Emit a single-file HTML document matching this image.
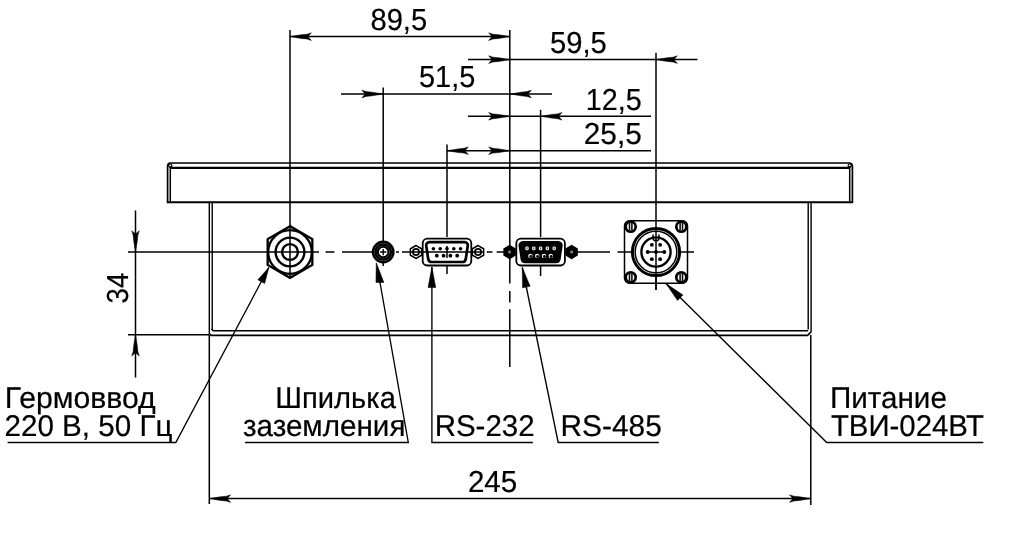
<!DOCTYPE html>
<html lang="ru">
<head>
<meta charset="utf-8">
<title>Чертёж: разъёмы</title>
<style>
html,body{margin:0;padding:0;background:#fff;}
body{width:1024px;height:539px;overflow:hidden;}
svg{display:block;will-change:transform;}
.t{fill:none;stroke:#000;stroke-width:1.5;}
.m{fill:none;stroke:#000;stroke-width:1.5;}
.b{fill:none;stroke:#000;stroke-width:1.4;}
.l{fill:none;stroke:#000;stroke-width:1.35;}
.k{fill:none;stroke:#000;stroke-width:2.3;}
.a path{fill:#000;stroke:#000;stroke-width:0.5;stroke-linejoin:miter;}
text{font-family:"Liberation Sans",sans-serif;font-size:30px;fill:#000;text-rendering:geometricPrecision;stroke:#000;stroke-width:0.2px;}
</style>
</head>
<body>
<svg width="1024" height="539" viewBox="0 0 1024 539">
<rect width="1024" height="539" fill="#fff"/>
<path d="M167.6 202V166a3 3 0 0 1 3-3H849.4a3 3 0 0 1 3 3V202" fill="none" stroke="#000" stroke-width="1.7"/>
<path d="M166.8 202.2H853.2" fill="none" stroke="#000" stroke-width="2"/>
<path d="M170 167.9H850" fill="none" stroke="#000" stroke-width="2.1"/>
<path class="m" d="M170.3 166V201.5M849.7 166V201.5"/>
<circle cx="170.3" cy="165.6" r="1.6" fill="none" stroke="#000" stroke-width="1.2"/><circle cx="849.7" cy="165.6" r="1.6" fill="none" stroke="#000" stroke-width="1.2"/>
<path class="b" d="M209.3 202V334M212.2 202V329.5M811.1 202V332M808.2 202V329.5"/>
<path d="M209.3 333.5l2 1.9H807.6l3.5-3.5M211.5 329l1.7 1.7H808.2" fill="none" stroke="#000" stroke-width="1.6"/>
<path class="t" d="M290 30L290 226" />
<path class="t" d="M383.2 87.5L383.2 266" />
<path class="t" d="M447 144.5L447 237" />
<path class="t" d="M447 266L447 274" />
<path class="t" d="M540.6 109.8L540.6 237" />
<path class="t" d="M540.6 266L540.6 276" />
<path class="t" d="M656 52.8L656 290" />
<path class="t" d="M509.8 30V283.5M509.8 291V302.5M509.8 309.3V367"/>
<path class="t" d="M290 36.6L510 36.6" />
<g class="a"><path d="M0 0L-11 -1.8L-17 -2.4L-21.3 -3.8L-18 0L-21.3 3.8L-17 2.4L-11 1.8Z" transform="translate(290 36.6) rotate(180)"/><path d="M0 0L-11 -1.8L-17 -2.4L-21.3 -3.8L-18 0L-21.3 3.8L-17 2.4L-11 1.8Z" transform="translate(510 36.6) rotate(0)"/></g>
<path class="t" d="M468 59.6L697.5 59.6" />
<g class="a"><path d="M0 0L-11 -1.8L-17 -2.4L-21.3 -3.8L-18 0L-21.3 3.8L-17 2.4L-11 1.8Z" transform="translate(510 59.6) rotate(0)"/><path d="M0 0L-11 -1.8L-17 -2.4L-21.3 -3.8L-18 0L-21.3 3.8L-17 2.4L-11 1.8Z" transform="translate(656 59.6) rotate(180)"/></g>
<path class="t" d="M341 94L552 94" />
<g class="a"><path d="M0 0L-11 -1.8L-17 -2.4L-21.3 -3.8L-18 0L-21.3 3.8L-17 2.4L-11 1.8Z" transform="translate(383.2 94) rotate(0)"/><path d="M0 0L-11 -1.8L-17 -2.4L-21.3 -3.8L-18 0L-21.3 3.8L-17 2.4L-11 1.8Z" transform="translate(510 94) rotate(180)"/></g>
<path class="t" d="M468 116.3L651 116.3" />
<g class="a"><path d="M0 0L-11 -1.8L-17 -2.4L-21.3 -3.8L-18 0L-21.3 3.8L-17 2.4L-11 1.8Z" transform="translate(510 116.3) rotate(0)"/><path d="M0 0L-11 -1.8L-17 -2.4L-21.3 -3.8L-18 0L-21.3 3.8L-17 2.4L-11 1.8Z" transform="translate(540.6 116.3) rotate(180)"/></g>
<path class="t" d="M447 150.7L651 150.7" />
<g class="a"><path d="M0 0L-11 -1.8L-17 -2.4L-21.3 -3.8L-18 0L-21.3 3.8L-17 2.4L-11 1.8Z" transform="translate(447 150.7) rotate(180)"/><path d="M0 0L-11 -1.8L-17 -2.4L-21.3 -3.8L-18 0L-21.3 3.8L-17 2.4L-11 1.8Z" transform="translate(510 150.7) rotate(0)"/></g>
<path class="t" d="M209.3 335L209.3 504" />
<path class="t" d="M810.8 335L810.8 505" />
<path class="t" d="M209.3 498.6L810.8 498.6" />
<g class="a"><path d="M0 0L-11 -1.8L-17 -2.4L-21.3 -3.8L-18 0L-21.3 3.8L-17 2.4L-11 1.8Z" transform="translate(209.3 498.6) rotate(180)"/><path d="M0 0L-11 -1.8L-17 -2.4L-21.3 -3.8L-18 0L-21.3 3.8L-17 2.4L-11 1.8Z" transform="translate(810.8 498.6) rotate(0)"/></g>
<path class="t" d="M135.5 210.5L135.5 377.5" />
<g class="a"><path d="M0 0L-11 -1.8L-17 -2.4L-21.3 -3.8L-18 0L-21.3 3.8L-17 2.4L-11 1.8Z" transform="translate(135.5 252) rotate(90)"/><path d="M0 0L-11 -1.8L-17 -2.4L-21.3 -3.8L-18 0L-21.3 3.8L-17 2.4L-11 1.8Z" transform="translate(135.5 334.8) rotate(-90)"/></g>
<path class="t" d="M128 334.8L209 334.8" />
<path class="t" d="M128 252L319 252" />
<path class="t" d="M325.5 252L334.5 252" />
<path class="t" d="M342 252L372 252" />
<path class="t" d="M396 252L399 252" />
<path class="t" d="M402 252L410 252" />
<path class="t" d="M486.7 252L492.5 252" />
<path class="t" d="M496.7 252L504 252" />
<path class="t" d="M577 252L610 252" />
<path class="t" d="M617.5 252L694 252" />
<polygon class="k" points="290.00,226.20 267.66,239.10 267.66,264.90 290.00,277.80 312.34,264.90 312.34,239.10"/>
<circle class="k" cx="290" cy="252" r="21.8"/>
<circle class="k" cx="290" cy="252" r="14.4"/>
<circle class="k" cx="290" cy="252" r="7.9"/>
<path class="t" d="M290 226L290 276.5" />
<circle cx="383.2" cy="252" r="10.1" fill="#fff" stroke="#000" stroke-width="2.7"/>
<circle cx="383.2" cy="252" r="7.6" fill="none" stroke="#000" stroke-width="2.5"/>
<circle cx="383.2" cy="252" r="5.3" fill="none" stroke="#000" stroke-width="2.1"/>
<path class="l" d="M380.2 252H386.4M383.2 249V255.2"/>
<polygon class="m" points="416.00,245.50 410.37,248.75 410.37,255.25 416.00,258.50 421.63,255.25 421.63,248.75" fill="#fff"/><circle cx="416" cy="252" r="3.1" fill="none" stroke="#000" stroke-width="1.7"/><polygon class="m" points="478.00,245.50 472.37,248.75 472.37,255.25 478.00,258.50 483.63,255.25 483.63,248.75" fill="#fff"/><circle cx="478" cy="252" r="3.1" fill="none" stroke="#000" stroke-width="1.7"/><rect x="422.7" y="238.7" width="48.6" height="26.8" rx="4.5" fill="#fff" stroke="#000" stroke-width="1.8"/><path d="M429.4 242.2H464.6a3.2 3.2 0 0 1 3.1 4L465.7 259.4a3.4 3.4 0 0 1 -3.3 2.6H431.6a3.4 3.4 0 0 1 -3.3 -2.6L426.3 246.2a3.2 3.2 0 0 1 3.1 -4Z" fill="#fff" stroke="#000" stroke-width="2.7"/><circle cx="433.4" cy="248.8" r="1.8"/><circle cx="440.2" cy="248.8" r="1.8"/><circle cx="447.0" cy="248.8" r="1.8"/><circle cx="453.79999999999995" cy="248.8" r="1.8"/><circle cx="460.59999999999997" cy="248.8" r="1.8"/><circle cx="436.8" cy="255.7" r="1.9"/><circle cx="443.6" cy="255.7" r="1.9"/><circle cx="450.40000000000003" cy="255.7" r="1.9"/><circle cx="457.2" cy="255.7" r="1.9"/>
<path class="t" d="M447 246L447 258" />
<path class="t" d="M410 252L484 252" />
<polygon points="509.60,245.60 504.06,248.80 504.06,255.20 509.60,258.40 515.14,255.20 515.14,248.80" fill="#000" stroke="#000" stroke-width="1.4"/><rect x="508.3" y="250.7" width="2.6" height="2.6" fill="#888"/><polygon points="571.60,245.60 566.06,248.80 566.06,255.20 571.60,258.40 577.14,255.20 577.14,248.80" fill="#000" stroke="#000" stroke-width="1.4"/><rect x="570.3000000000001" y="250.7" width="2.6" height="2.6" fill="#888"/><rect x="516.3000000000001" y="238.7" width="48.6" height="26.8" rx="4.5" fill="#fff" stroke="#000" stroke-width="1.8"/><path d="M523.0 242.2H558.2a3.2 3.2 0 0 1 3.1 4L559.3000000000001 259.4a3.4 3.4 0 0 1 -3.3 2.6H525.2a3.4 3.4 0 0 1 -3.3 -2.6L519.9 246.2a3.2 3.2 0 0 1 3.1 -4Z" fill="#000" stroke="#000" stroke-width="2.6"/><rect x="525.3" y="246.5" width="3.4" height="3.8" rx="1.2" fill="#eee"/><rect x="526.5" y="247.4" width="1" height="2" fill="#444"/><rect x="532.0999999999999" y="246.5" width="3.4" height="3.8" rx="1.2" fill="#eee"/><rect x="533.3" y="247.4" width="1" height="2" fill="#444"/><rect x="538.9" y="246.5" width="3.4" height="3.8" rx="1.2" fill="#eee"/><rect x="540.1" y="247.4" width="1" height="2" fill="#444"/><rect x="545.6999999999999" y="246.5" width="3.4" height="3.8" rx="1.2" fill="#eee"/><rect x="546.9" y="247.4" width="1" height="2" fill="#444"/><rect x="552.5" y="246.5" width="3.4" height="3.8" rx="1.2" fill="#eee"/><rect x="553.7" y="247.4" width="1" height="2" fill="#444"/><circle cx="530.4" cy="255.9" r="2.2" fill="#f4f4f4"/><circle cx="530.8" cy="256.5" r="1.4" fill="#000"/><circle cx="537.1999999999999" cy="255.9" r="2.2" fill="#f4f4f4"/><circle cx="537.5999999999999" cy="256.5" r="1.4" fill="#000"/><circle cx="544.0" cy="255.9" r="2.2" fill="#f4f4f4"/><circle cx="544.4" cy="256.5" r="1.4" fill="#000"/><circle cx="550.8" cy="255.9" r="2.2" fill="#f4f4f4"/><circle cx="551.1999999999999" cy="256.5" r="1.4" fill="#000"/>
<rect class="m" x="624.5" y="220.7" width="63" height="62.6" rx="5" />
<circle cx="630.7" cy="226.7" r="5" fill="#fff" stroke="#000" stroke-width="2.7"/>
<path class="t" d="M629.5 223.1v7.2m2.4 0v-7.2"/>
<circle cx="630.7" cy="277.3" r="5" fill="#fff" stroke="#000" stroke-width="2.7"/>
<path class="t" d="M629.5 273.7v7.2m2.4 0v-7.2"/>
<circle cx="681.3" cy="226.7" r="5" fill="#fff" stroke="#000" stroke-width="2.7"/>
<path class="t" d="M680.0999999999999 223.1v7.2m2.4 0v-7.2"/>
<circle cx="681.3" cy="277.3" r="5" fill="#fff" stroke="#000" stroke-width="2.7"/>
<path class="t" d="M680.0999999999999 273.7v7.2m2.4 0v-7.2"/>
<circle cx="656" cy="252" r="23.6" fill="#fff" stroke="#000" stroke-width="3"/>
<circle class="m" cx="656" cy="252" r="20.8"/>
<circle class="k" cx="656" cy="252" r="14.6"/>
<path class="m" d="M653 234.5v3.2a3 3 0 0 0 6 0v-3.2"/>
<circle cx="664.30" cy="252.00" r="1.9"/>
<circle cx="660.15" cy="259.19" r="1.9"/>
<circle cx="651.85" cy="259.19" r="1.9"/>
<circle cx="647.70" cy="252.00" r="1.9"/>
<circle cx="651.85" cy="244.81" r="1.9"/>
<circle cx="660.15" cy="244.81" r="1.9"/>
<circle cx="656" cy="252" r="1.9"/>
<path class="t" d="M656 228L656 290" />
<path class="t" d="M646 252L666 252" />
<path class="l" d="M7.6 442.5H175.8L268.8 267.5"/><g class="a"><path d="M0 0L-16 -3.85L-16 3.85Z" transform="translate(268.8 267.5) rotate(-62.01254680924402)"/></g>
<path class="l" d="M245.1 442.5H408.3L379.9 282"/><path d="M376.3 262.8L376 282.4L383.8 282.4Z" fill="#000" stroke="#000" stroke-width="0.6"/>
<path class="l" d="M532.9 442.5H431.9L431.9 267"/><g class="a"><path d="M0 0L-20.5 -3.85L-20.5 3.85Z" transform="translate(431.9 267) rotate(-90.0)"/></g>
<path class="l" d="M658.8 442.5H558.2L522.3 267.5"/><g class="a"><path d="M0 0L-20 -3.85L-20 3.85Z" transform="translate(522.3 267.5) rotate(-101.59298100883318)"/></g>
<path class="l" d="M983.3 442.5H826.7L666 283.6"/><g class="a"><path d="M0 0L-20 -3.85L-20 3.85Z" transform="translate(666 283.6) rotate(-135.32268871306422)"/></g>
<text transform="translate(4.83 408.00) scale(1.0060 1)" style="font-size:30px">Гермоввод</text>
<text transform="translate(4.52 435.90) scale(0.9862 1)" style="font-size:30px">220 В, 50 Гц</text>
<text transform="translate(275.27 407.90) scale(0.9719 1)" style="font-size:30px">Шпилька</text>
<text transform="translate(242.91 435.90) scale(0.9874 1)" style="font-size:30px">заземления</text>
<text transform="translate(434.64 436.00) scale(0.9823 1)" style="font-size:30px">RS-232</text>
<text transform="translate(560.51 436.00) scale(0.9956 1)" style="font-size:30px">RS-485</text>
<text transform="translate(829.93 408.00) scale(0.9875 1)" style="font-size:30px">Питание</text>
<text transform="translate(830.91 435.90) scale(0.9791 1)" style="font-size:30px">ТВИ-024ВТ</text>
<text transform="translate(467.92 492.10) scale(0.9729 1)" style="font-size:30.4px">245</text>
<text transform="translate(370.43 29.90) scale(0.9586 1)" style="font-size:30.4px">89,5</text>
<text transform="translate(419.00 87.20) scale(0.9505 1)" style="font-size:30.4px">51,5</text>
<text transform="translate(549.99 53.30) scale(0.9593 1)" style="font-size:30.4px">59,5</text>
<text transform="translate(585.79 110.15) scale(0.9457 1)" style="font-size:30.4px">12,5</text>
<text transform="translate(583.81 144.30) scale(0.9797 1)" style="font-size:30.4px">25,5</text>
<text transform="translate(128.1 303.43) rotate(-90) scale(0.9095 1)" style="font-size:30.4px">34</text>
</svg>
</body>
</html>
